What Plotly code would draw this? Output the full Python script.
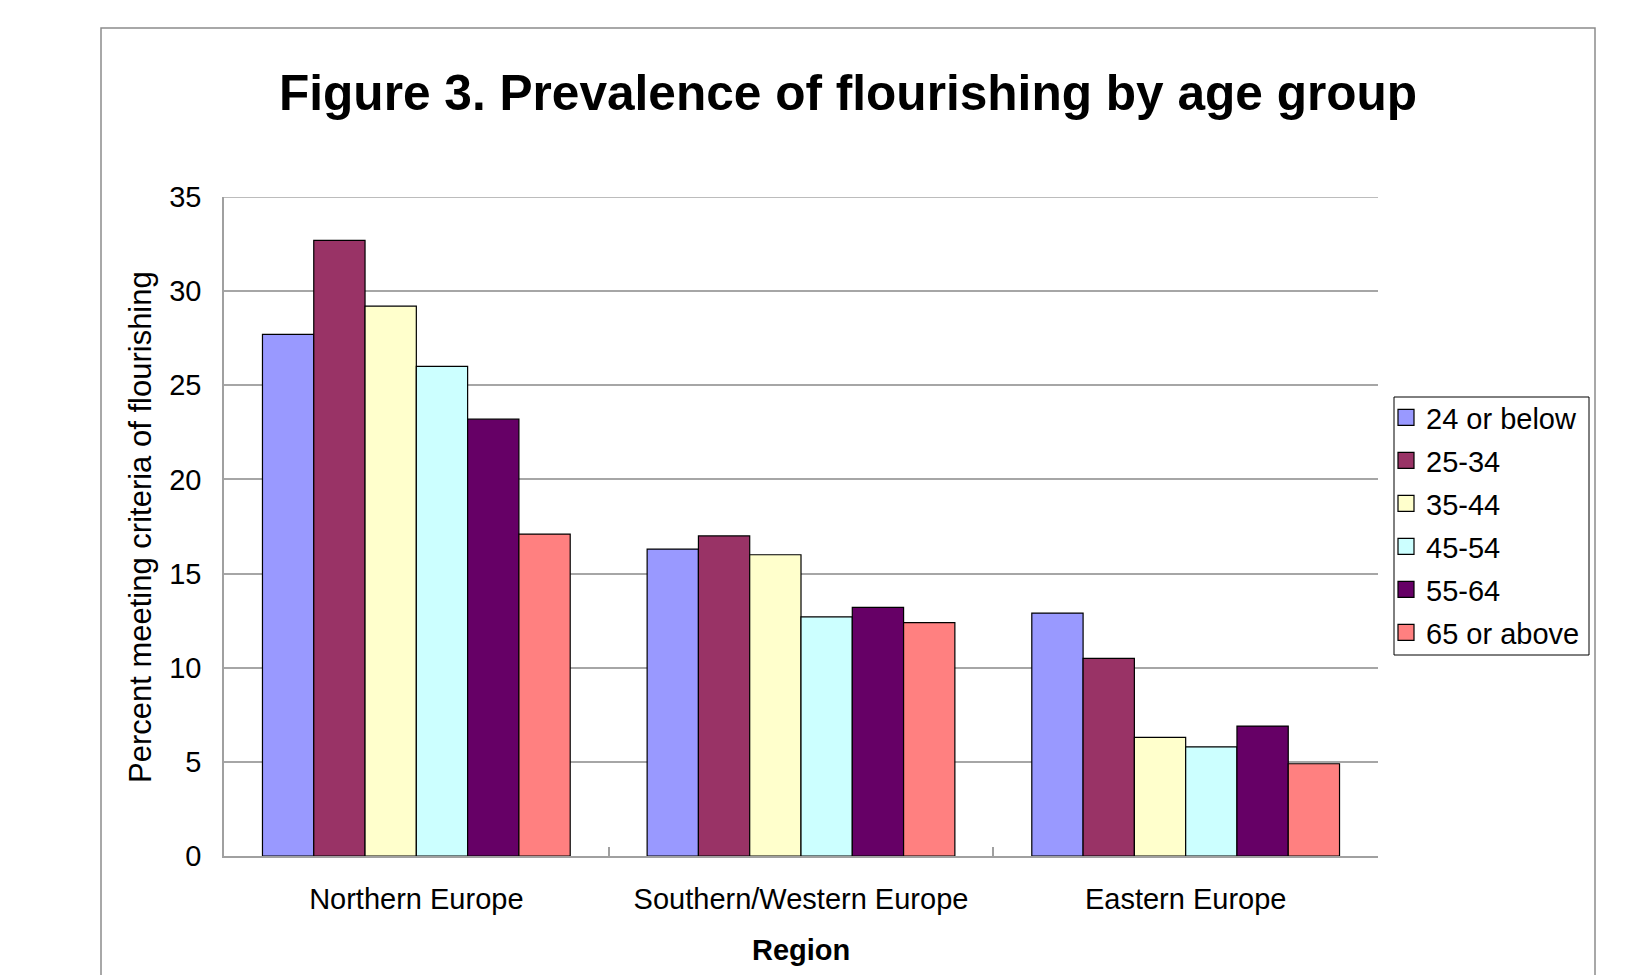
import plotly.graph_objects as go

regions = ["Northern Europe", "Southern/Western Europe", "Eastern Europe"]
age_groups = ["24 or below", "25-34", "35-44", "45-54", "55-64", "65 or above"]
v_24_below = [27.7, 16.3, 12.9]
v_25_34 = [32.7, 17.0, 10.5]
v_35_44 = [29.2, 16.0, 6.3]
v_45_54 = [26.0, 12.7, 5.8]
v_55_64 = [23.2, 13.2, 6.9]
v_65_above = [17.1, 12.4, 4.9]
series = [v_24_below, v_25_34, v_35_44, v_45_54, v_55_64, v_65_above]
colors = ["#9999FF", "#993366", "#FFFFCC", "#CCFFFF", "#660066", "#FF8080"]
y_ticks = [0, 5, 10, 15, 20, 25, 30, 35]

FONT = "Liberation Sans, Arial, sans-serif"

fig = go.Figure()
for i, (name, vals) in enumerate(zip(age_groups, series)):
    fig.add_trace(go.Bar(
        x=regions, y=vals, name=name, showlegend=False,
        marker=dict(color=colors[i], line=dict(color="#000000", width=1.2)),
    ))
# legend entries with larger square swatches
for i, name in enumerate(age_groups):
    fig.add_trace(go.Scatter(
        x=[None], y=[None], mode="markers", name=name, legendgroup=f"g{i}",
        marker=dict(symbol="square", size=18, color=colors[i],
                    line=dict(color="#000000", width=1.2)),
    ))

W, H = 1636, 975
L, R, T, B = 224, 1636 - 1378, 197, 975 - 856
pw, ph = W - L - R, H - T - B

def px(x):
    return (x - L) / pw

def py(y):
    return (H - B - y) / ph

fig.update_layout(
    width=W, height=H,
    margin=dict(l=L, r=R, t=T, b=B, pad=0),
    paper_bgcolor="white", plot_bgcolor="white",
    barmode="group", bargap=0.2, bargroupgap=0,
    font=dict(family=FONT, size=29, color="#000000"),
    showlegend=True,
    legend=dict(
        x=px(1386), y=py(392), xanchor="left", yanchor="top",
        borderwidth=0, bgcolor="rgba(0,0,0,0)",
        font=dict(family=FONT, size=29, color="#000000"),
        tracegroupgap=2.3, itemwidth=30,
    ),
    annotations=[
        dict(text="<b>Figure 3. Prevalence of flourishing by age group</b>",
             xref="paper", yref="paper", x=px(848), y=py(93),
             xanchor="center", yanchor="middle", showarrow=False,
             font=dict(family=FONT, size=49.6, color="#000000")),
        dict(text="<b>Region</b>",
             xref="paper", yref="paper", x=px(801), y=py(950),
             xanchor="center", yanchor="middle", showarrow=False,
             font=dict(family=FONT, size=29, color="#000000")),
        dict(text="Percent meeting criteria of flourishing",
             xref="paper", yref="paper", x=px(140), y=py(527),
             xanchor="center", yanchor="middle", showarrow=False, textangle=-90,
             font=dict(family=FONT, size=31, color="#000000")),
    ],
    shapes=[
        dict(type="rect", xref="paper", yref="paper",
             x0=px(101), x1=px(1595), y0=py(1000), y1=py(28),
             line=dict(color="#8c8c8c", width=1.5), fillcolor="rgba(0,0,0,0)",
             layer="below"),
        dict(type="line", xref="paper", yref="y",
             x0=0, x1=1, y0=35, y1=35,
             line=dict(color="#a6a6a6", width=1.5), layer="below"),
        dict(type="rect", xref="paper", yref="paper",
             x0=px(1394), x1=px(1589), y0=py(655), y1=py(397),
             line=dict(color="#000000", width=1), fillcolor="white",
             layer="below"),
    ],
)

fig.update_xaxes(
    showline=True, linecolor="#a0a0a0", linewidth=2,
    ticks="inside", tickson="boundaries", ticklen=9, tickcolor="#a0a0a0", tickwidth=2,
    showgrid=False, ticklabelstandoff=16,
    tickfont=dict(family=FONT, size=29, color="#000000"),
)
fig.update_yaxes(
    range=[0, 35], tickvals=y_ticks, ticktext=[str(v) for v in y_ticks],
    showline=True, linecolor="#a0a0a0", linewidth=1.5,
    showgrid=True, gridcolor="#a6a6a6", gridwidth=1.5,
    ticks="", ticklabelstandoff=15, zeroline=False,
    tickfont=dict(family=FONT, size=29, color="#000000"),
)

fig.write_html("out.html")
